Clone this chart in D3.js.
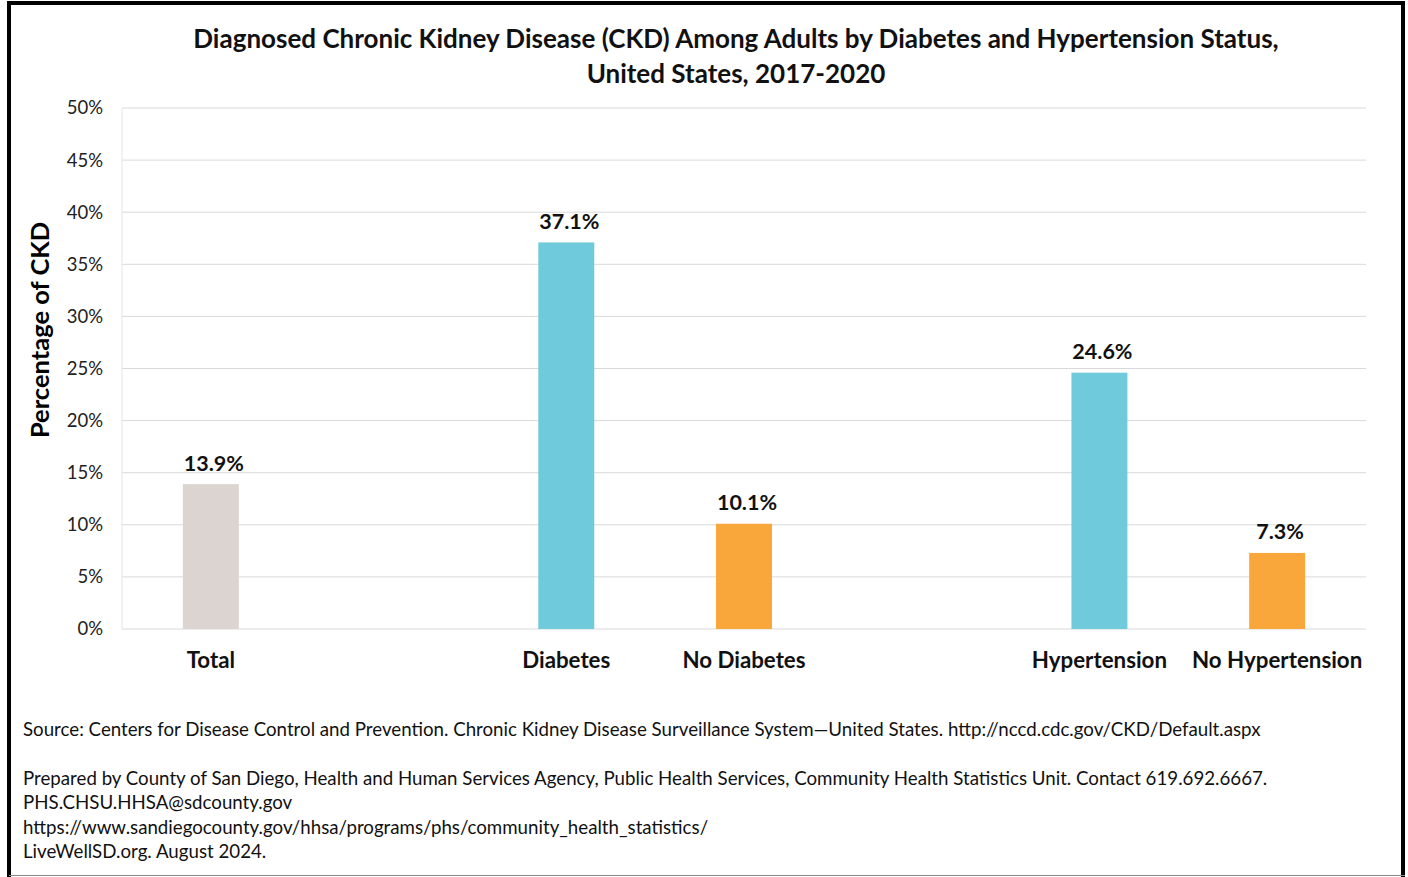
<!DOCTYPE html>
<html>
<head>
<meta charset="utf-8">
<script src="https://cdn.jsdelivr.net/npm/d3@7"></script>
<style>
  html, body { margin: 0; padding: 0; background: #fff; }
  svg { display: block; font-family: Lato, "Open Sans", sans-serif; }
</style>
</head>
<body>
<div id="chart"></div>
<script>
// chart data
const categories = ['Total', 'gap1', 'Diabetes', 'No Diabetes', 'gap2', 'Hypertension', 'No Hypertension'];
const values = [13.9, null, 37.1, 10.1, null, 24.6, 7.3];
const barColors = ['#dcd4d0', null, '#6fcbdc', '#f9a63a', null, '#6fcbdc', '#f9a63a'];
const yTicks = [0, 5, 10, 15, 20, 25, 30, 35, 40, 45, 50];
const titleLines = [
  'Diagnosed Chronic Kidney Disease (CKD) Among Adults by Diabetes and Hypertension Status,',
  'United States, 2017-2020'
];
const footnoteLines = [
  { text: 'Source: Centers for Disease Control and Prevention. Chronic Kidney Disease Surveillance System\u2014United States. http://nccd.cdc.gov/CKD/Default.aspx', y: 736 },
  { text: 'Prepared by County of San Diego, Health and Human Services Agency, Public Health Services, Community Health Statistics Unit. Contact 619.692.6667.', y: 785 },
  { text: 'PHS.CHSU.HHSA@sdcounty.gov', y: 809 },
  { text: 'https://www.sandiegocounty.gov/hhsa/programs/phs/community_health_statistics/', y: 834 },
  { text: 'LiveWellSD.org. August 2024.', y: 858 }
];

const width = 1408;
const height = 877;
const margin = { top: 108, right: 42, bottom: 248, left: 122 };
const innerW = width - margin.left - margin.right;
const innerH = height - margin.top - margin.bottom;

const svg = d3.select('#chart').append('svg')
  .attr('width', width)
  .attr('height', height);

svg.append('rect').attr('width', width).attr('height', height).attr('fill', '#fff');

const g = svg.append('g').attr('transform', `translate(${margin.left},${margin.top})`);

const x = d3.scaleBand().domain(categories).range([0, innerW]).paddingInner(0.685).paddingOuter(0.3425);
const y = d3.scaleLinear().domain([0, 50]).range([innerH, 0]);

// gridlines
g.append('g')
  .selectAll('line')
  .data(yTicks)
  .join('line')
  .attr('x1', 0)
  .attr('x2', innerW)
  .attr('y1', d => y(d))
  .attr('y2', d => y(d))
  .attr('stroke', '#d9d9d9')
  .attr('stroke-width', 1);

g.append('line')
  .attr('x1', 0).attr('x2', 0)
  .attr('y1', 0).attr('y2', innerH)
  .attr('stroke', '#e6e6e6');

// y axis labels
const yAxis = d3.axisLeft(y).tickValues(yTicks).tickFormat(d => d + '%').tickSize(0).tickPadding(19);
const yAxisG = g.append('g').call(yAxis);
yAxisG.select('.domain').remove();
yAxisG.selectAll('text')
  .attr('font-size', 18.5)
  .attr('fill', '#222')
  .style('font-family', 'Lato, "Open Sans", sans-serif');

// bars
const barData = categories.map((c, i) => ({ cat: c, value: values[i], color: barColors[i] }))
  .filter(d => d.value !== null);

g.selectAll('rect.bar')
  .data(barData)
  .join('rect')
  .attr('class', 'bar')
  .attr('x', d => x(d.cat))
  .attr('width', x.bandwidth())
  .attr('y', d => y(d.value))
  .attr('height', d => innerH - y(d.value))
  .attr('fill', d => d.color);

g.selectAll('text.val')
  .data(barData)
  .join('text')
  .attr('class', 'val')
  .attr('x', d => x(d.cat) + x.bandwidth() / 2 + 3)
  .attr('y', d => y(d.value) - 13.5)
  .attr('text-anchor', 'middle')
  .attr('font-size', 21.5)
  .attr('font-weight', 'bold')
  .attr('fill', '#111')
  .text(d => d.value.toFixed(1) + '%');

// category labels
g.selectAll('text.cat')
  .data(barData)
  .join('text')
  .attr('class', 'cat')
  .attr('x', d => x(d.cat) + x.bandwidth() / 2)
  .attr('y', innerH + 39)
  .attr('text-anchor', 'middle')
  .attr('font-size', 22.3)
  .attr('font-weight', 'bold')
  .attr('fill', '#111')
  .text(d => d.cat);

// y axis title
svg.append('text')
  .attr('transform', 'translate(49,330) rotate(-90)')
  .attr('text-anchor', 'middle')
  .attr('font-size', 25.5)
  .attr('font-weight', 'bold')
  .attr('fill', '#000')
  .text('Percentage of CKD');

// title
svg.selectAll('text.title')
  .data(titleLines)
  .join('text')
  .attr('class', 'title')
  .attr('x', 736)
  .attr('y', (d, i) => 48 + i * 34.5)
  .attr('text-anchor', 'middle')
  .attr('font-size', 26)
  .attr('font-weight', 'bold')
  .attr('fill', '#111')
  .text(d => d);

// footnotes
svg.selectAll('text.foot')
  .data(footnoteLines)
  .join('text')
  .attr('class', 'foot')
  .attr('x', 23)
  .attr('y', d => d.y)
  .attr('font-size', 18.7)
  .attr('fill', '#111')
  .text(d => d.text);

// outer frame
svg.append('path')
  .attr('d', `M9,${height} V3 H1403 V${height}`)
  .attr('fill', 'none')
  .attr('stroke', '#000')
  .attr('stroke-width', 4);
svg.append('line')
  .attr('x1', 9).attr('x2', 1405)
  .attr('y1', 875.5).attr('y2', 875.5)
  .attr('stroke', '#888')
  .attr('stroke-width', 1);
</script>
</body>
</html>
